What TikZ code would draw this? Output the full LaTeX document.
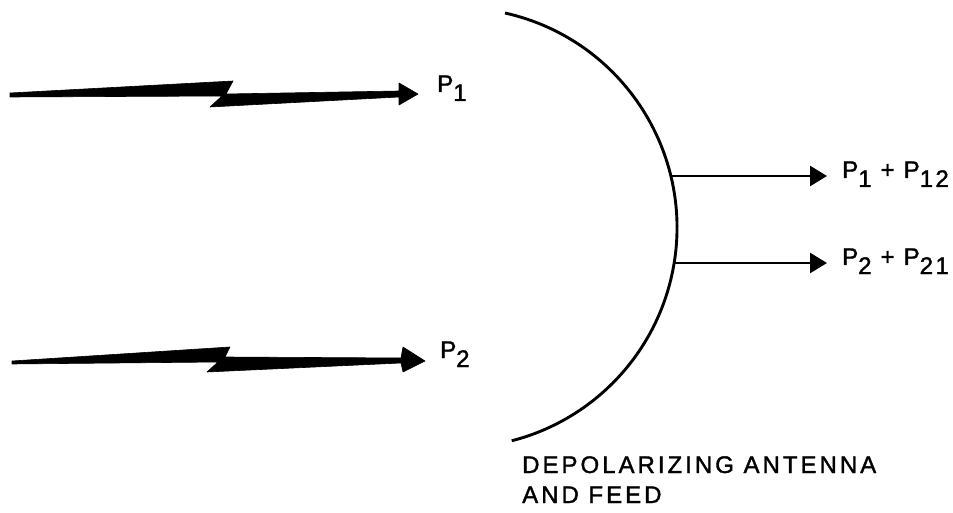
\documentclass[tikz,border=0pt]{standalone}
\usepackage{fontspec}
\setmainfont{Liberation Sans}
\newfontfamily\lblfont[LetterSpace=10,FakeBold=1.5]{Liberation Sans}
\newfontfamily\capfont[LetterSpace=12.5,FakeBold=1.5]{Liberation Sans}
\usetikzlibrary{arrows.meta}
\begin{document}
\begin{tikzpicture}[x=1pt,y=1pt,
  lbl/.style={inner sep=0pt, anchor=base west, font=\lblfont\fontsize{24}{28}\selectfont},
  caplbl/.style={inner sep=0pt, anchor=base west, font=\capfont\fontsize{24}{28}\selectfont},
  bolt/.style={fill=black, draw=black, line width=0.6pt, line join=round},
  outarrow/.style={line width=2.6pt, -{Triangle[length=17pt,width=20pt]}, shorten >=15pt},
  dish/.style={line width=2.9pt}]
\useasboundingbox (0,0) rectangle (953,512);
\newcommand{\sub}[1]{\raisebox{-9pt}{#1}}
% dish
\coordinate (dc) at (457,285);
\draw[dish] (505,499) arc[start angle=77.4, end angle=-75.6, radius=220];
\coordinate (f1) at (671,336);
\coordinate (f2) at (674,249);
% labels
\node[lbl] (p1) at (437,420) {P\sub{1}};
\node[lbl] (p2) at (440,154) {P\sub{2}};
\node[lbl] (o1) at (842,334) {P\sub{1} + P\sub{12}};
\node[lbl] (o2) at (842,247) {P\sub{2} + P\sub{21}};
\node[caplbl] (cap1) at (522,39) {DEPOLARIZING ANTENNA};
\node[caplbl] (cap2) at (522,9) {AND FEED};
% output arrows
\draw[outarrow] (f1) -- (f1 -| o1.west);
\draw[outarrow] (f2) -- (f2 -| o2.west);
% lightning bolt 1
\draw[bolt] (10,419) -- (233,431) -- (226,418) -- (399,421) -- (399,429) -- (418,418)
  -- (399,407) -- (399,415) -- (210,405) -- (222,416) -- (10,415) -- cycle;
% lightning bolt 2
\draw[bolt] (12,151) -- (230,165) -- (225,155) -- (401,154) -- (403,165) -- (425,151)
  -- (403,140) -- (401,149) -- (207,140) -- (218,150) -- (12,148) -- cycle;
\end{tikzpicture}
\end{document}
